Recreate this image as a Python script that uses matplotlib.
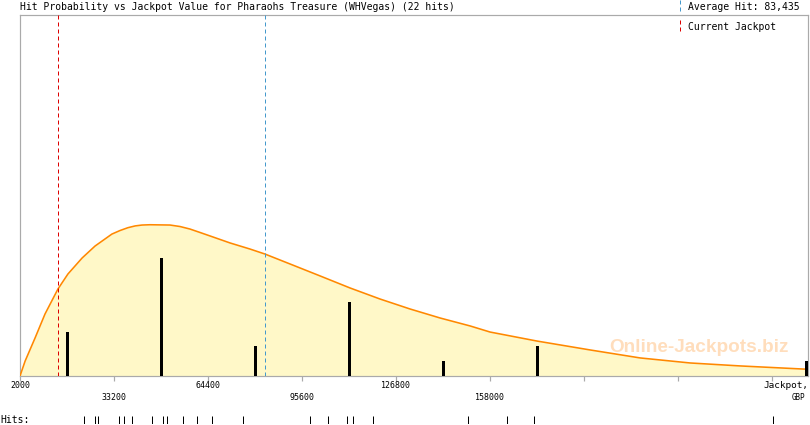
import matplotlib.pyplot as plt
import numpy as np

# data
hits = [23300, 26900, 27800, 35000, 36600, 39100, 45900, 49600, 50700, 56200,
        60600, 65600, 76100, 98300, 104100, 110400, 112600, 119300, 150800,
        163500, 172700, 252000]
average_hit = 83435
current_jackpot = 14700

curve_x = [2000, 3700, 7000, 10300, 14600, 17900, 22600, 26900, 32500, 35200,
           37800, 40200, 42500, 45100, 51800, 55100, 58400, 61700, 65100,
           71700, 78300, 83300, 91600, 101600, 111500, 121500, 131400, 141400,
           151400, 158000, 173600, 191200, 207800, 224400, 241000, 261900,
           263500]
curve_y = [0, 1.01, 2.57, 4.19, 5.88, 6.89, 7.97, 8.78, 9.59, 9.83, 10.02,
           10.14, 10.20, 10.22, 10.20, 10.10, 9.93, 9.70, 9.46, 8.99, 8.58,
           8.24, 7.57, 6.76, 5.95, 5.20, 4.53, 3.92, 3.38, 2.97, 2.36, 1.76,
           1.22, 0.88, 0.68, 0.47, 0.46]

tick_values = [2000, 33200, 64400, 95600, 126800, 158000, 189200, 220400, 251600]
tick_labels = ["2000", "33200", "64400", "95600", "126800", "158000"]

x_min, x_max = 2000, 263500
bin_width = 31200

W, H = 810, 425
fig = plt.figure(figsize=(W / 72, H / 72), dpi=72)
mono = "DejaVu Sans Mono"
grey = "#aaaaaa"

ax = fig.add_axes([20 / W, 49 / H, 788 / W, 361 / H])
ax.set_xlim(x_min, x_max)
ax.set_ylim(0, 361 / 14.8)
for s in ["left", "right", "top", "bottom"]:
    ax.spines[s].set_color(grey)
    ax.spines[s].set_linewidth(1.2)
ax.set_yticks([])
ax.set_xticks(tick_values)
ax.set_xticklabels([])
ax.tick_params(axis="x", length=5, width=1.2, color=grey)

# fitted curve
ax.fill_between(curve_x, curve_y, 0, color="#fff8c8", lw=0, zorder=1)
ax.plot(curve_x, curve_y, color="#ff8800", lw=1.6, zorder=4)

ax.text(227400, 1.95, "Online-Jackpots.biz", fontsize=19,
        family="Liberation Sans", weight="bold", color="#ffcc99", alpha=0.65,
        ha="center", va="center", zorder=3)

# histogram of hits
edges = np.arange(x_min, x_max + bin_width * 2, bin_width)
counts, edges = np.histogram(hits, bins=edges)
centers = np.minimum((edges[:-1] + edges[1:]) / 2, x_max - 500)
for c, n in zip(centers, counts):
    if n > 0:
        ax.bar(c, n, width=1000, color="black", zorder=5)

ax.axvline(current_jackpot, color="#dd0000", lw=1, dashes=(4, 3), zorder=6)
ax.axvline(average_hit, color="#4499cc", lw=1, dashes=(4, 3), zorder=6)

# tick labels in two rows
for i, (v, lab) in enumerate(zip(tick_values, tick_labels)):
    off = -10 if i % 2 == 0 else -22
    ax.annotate(lab, (v, 0), xycoords=("data", "axes fraction"),
                xytext=(0, off), textcoords="offset points",
                ha="center", va="center", fontsize=8.3, family=mono)
ax.annotate("Jackpot,", (1, 0), xycoords="axes fraction", xytext=(0, -10),
            textcoords="offset points", ha="right", va="center",
            fontsize=9.4, family=mono)
ax.annotate("GBP", (1, 0), xycoords="axes fraction", xytext=(-10, -22),
            textcoords="offset points", ha="center", va="center",
            fontsize=7.5, family=mono)

# title and legend
fs = 9.8
fig.text(20 / W, 1 - 7 / H, "Hit Probability vs Jackpot Value for Pharaohs Treasure (WHVegas) (%d hits)" % len(hits),
         fontsize=fs, family=mono, va="center", ha="left")
fig.text(688 / W, 1 - 7 / H, "Average Hit: {:,}".format(average_hit),
         fontsize=fs, family=mono, va="center", ha="left")
fig.text(688 / W, 1 - 27 / H, "Current Jackpot",
         fontsize=fs, family=mono, va="center", ha="left")
fig.add_artist(plt.Line2D([680 / W, 680 / W], [1 - 0 / H, 1 - 11 / H],
                          color="#4499cc", lw=1, dashes=(4, 3)))
fig.add_artist(plt.Line2D([680 / W, 680 / W], [1 - 20 / H, 1 - 34 / H],
                          color="#dd0000", lw=1, dashes=(4, 3)))

# rug of individual hits
rug = fig.add_axes([20 / W, 1 / H, 788 / W, 8 / H])
rug.set_xlim(x_min, x_max)
rug.set_ylim(0, 1)
rug.axis("off")
rug.vlines(hits, 0, 1, color="black", lw=1)
fig.text(0, 5 / H, "Hits:", fontsize=fs, family=mono, va="center", ha="left")

fig.savefig("out.png", dpi=72)
